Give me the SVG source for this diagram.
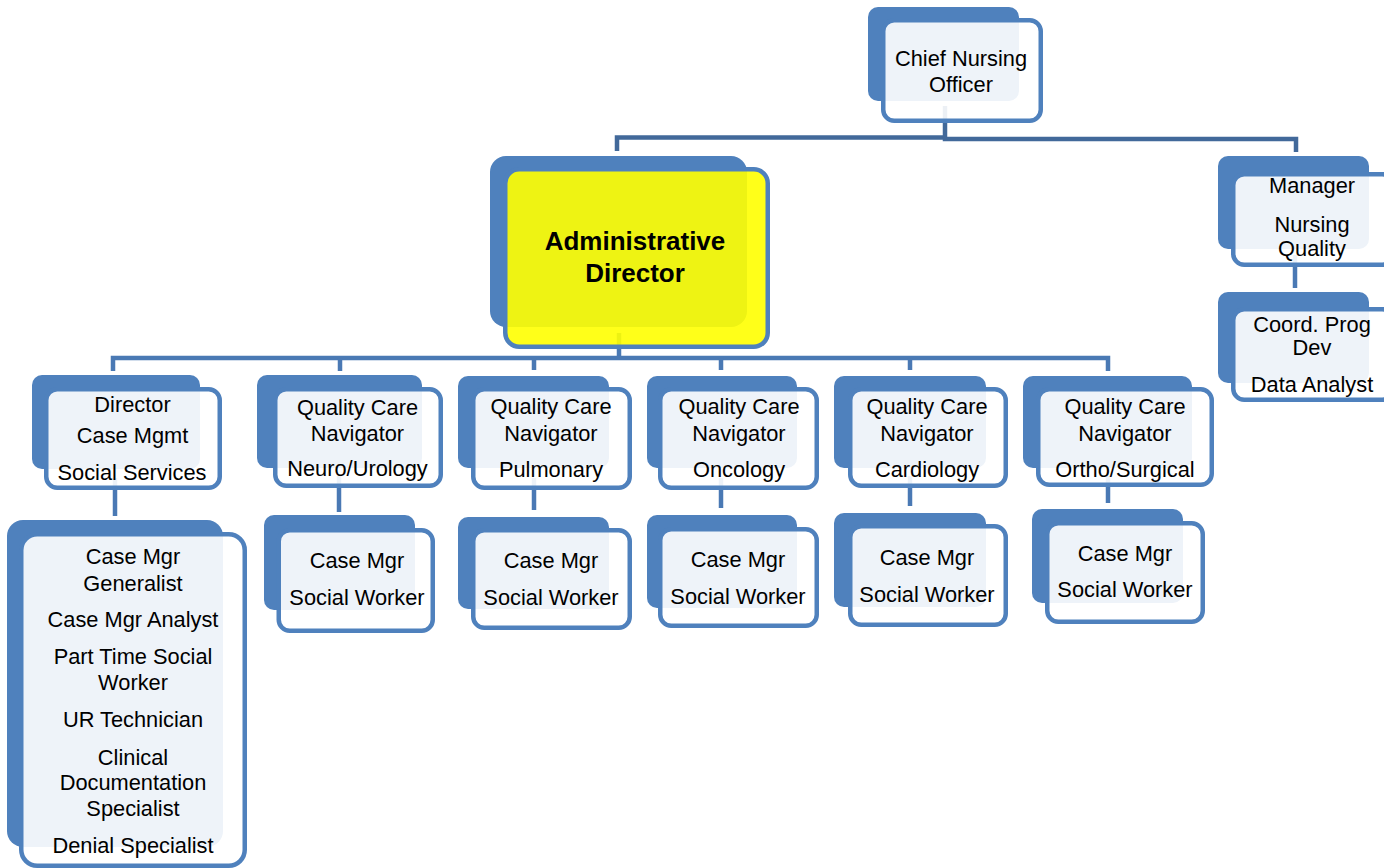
<svg xmlns="http://www.w3.org/2000/svg" width="1384" height="868" viewBox="0 0 1384 868">
<style>
.back{fill:#4f81bd}
.front{fill:#ffffff;fill-opacity:.9;stroke:#4f81bd;stroke-width:4.5}
.yfront{fill:#ffff00;fill-opacity:.9;stroke:#4f81bd;stroke-width:4.5}
.c1{fill:none;stroke:#42699a;stroke-width:4.5}
.c2{fill:none;stroke:#4a79b4;stroke-width:4.5}
text{font-family:"Liberation Sans",Arial,sans-serif;font-size:21.8px;fill:#000;text-anchor:middle}
.b{font-weight:bold;font-size:26px}
</style>
<rect width="1384" height="868" fill="#ffffff"/>
<g id="connectors">
<path class="c1" d="M945,106 V137.5 H617 V151"/>
<path class="c1" d="M945,137.5 V139 H1296 V152"/>
<path class="c2" d="M619,333 V358"/>
<path class="c2" d="M113,371 V358 H1108 V371"/>
<path class="c2" d="M340,358 V371 M534,358 V370 M721,358 V370 M910,358 V370"/>
<path class="c2" d="M1295,255 V288"/>
<path class="c2" d="M115,478 V516"/>
<path class="c2" d="M339,476 V512"/>
<path class="c2" d="M534,478 V510"/>
<path class="c2" d="M721,478 V508"/>
<path class="c2" d="M910,476 V506"/>
<path class="c2" d="M1108,476 V503"/>
</g>
<g id="cno">
<rect class="back" x="868" y="7" width="151" height="94" rx="10"/>
<rect class="front" x="883.25" y="20.25" width="157.5" height="100.5" rx="11"/>
<text x="961" y="66">Chief Nursing</text>
<text x="961" y="92">Officer</text>
</g>
<g id="admin">
<rect class="back" x="490" y="156" width="257" height="171" rx="16"/>
<rect class="yfront" x="505.25" y="169.25" width="262.5" height="177.5" rx="14"/>
<text class="b" x="635" y="250">Administrative</text>
<text class="b" x="635" y="282">Director</text>
</g>
<g id="manager">
<rect class="back" x="1218" y="156" width="151" height="93" rx="10"/>
<rect class="front" x="1233.25" y="174.25" width="160" height="90.5" rx="11"/>
<text x="1312" y="193">Manager</text>
<text x="1312" y="232">Nursing</text>
<text x="1312" y="256">Quality</text>
</g>
<g id="coord">
<rect class="back" x="1218" y="292" width="151" height="91" rx="10"/>
<rect class="front" x="1233.25" y="309.25" width="160" height="90.5" rx="11"/>
<text x="1312" y="332">Coord. Prog</text>
<text x="1312" y="355">Dev</text>
<text x="1312" y="392">Data Analyst</text>
</g>
<g id="director">
<rect class="back" x="32" y="375" width="168" height="94" rx="10"/>
<rect class="front" x="46.25" y="389.25" width="173.5" height="98.5" rx="11"/>
<text x="132.5" y="412">Director</text>
<text x="132.5" y="443">Case Mgmt</text>
<text x="132" y="480">Social Services</text>
</g>
<g id="casemgmt-staff">
<rect class="back" x="7" y="520" width="216" height="327" rx="16"/>
<rect class="front" x="21.25" y="534.25" width="223.5" height="331.5" rx="16"/>
<text x="133" y="564">Case Mgr</text>
<text x="133" y="591">Generalist</text>
<text x="133" y="627">Case Mgr Analyst</text>
<text x="133" y="664">Part Time Social</text>
<text x="133" y="690">Worker</text>
<text x="133" y="727">UR Technician</text>
<text x="133" y="765">Clinical</text>
<text x="133" y="790">Documentation</text>
<text x="133" y="816">Specialist</text>
<text x="133" y="853">Denial Specialist</text>
</g>
<g id="qcn-neuro">
<rect class="back" x="257" y="375" width="165" height="93" rx="10"/>
<rect class="front" x="275.25" y="389.25" width="165.5" height="96.5" rx="11"/>
<text x="357.5" y="415">Quality Care</text>
<text x="357.5" y="441">Navigator</text>
<text x="357.5" y="476">Neuro/Urology</text>
</g>
<g id="cm-neuro">
<rect class="back" x="264" y="515" width="151" height="95" rx="10"/>
<rect class="front" x="278.75" y="530.25" width="154" height="100.5" rx="11"/>
<text x="357" y="568">Case Mgr</text>
<text x="357" y="605">Social Worker</text>
</g>
<g id="qcn-pulm">
<rect class="back" x="458" y="376" width="151" height="92" rx="10"/>
<rect class="front" x="473.25" y="389.25" width="156.5" height="98.5" rx="11"/>
<text x="551" y="414">Quality Care</text>
<text x="551" y="441">Navigator</text>
<text x="551" y="477">Pulmonary</text>
</g>
<g id="cm-pulm">
<rect class="back" x="458" y="517" width="151" height="92" rx="10"/>
<rect class="front" x="473.25" y="530.25" width="156.5" height="97.5" rx="11"/>
<text x="551" y="568">Case Mgr</text>
<text x="551" y="605">Social Worker</text>
</g>
<g id="qcn-onc">
<rect class="back" x="647" y="376" width="150" height="92" rx="10"/>
<rect class="front" x="660.25" y="389.25" width="156.5" height="98.5" rx="11"/>
<text x="739" y="414">Quality Care</text>
<text x="739" y="441">Navigator</text>
<text x="739" y="477">Oncology</text>
</g>
<g id="cm-onc">
<rect class="back" x="647" y="515" width="150" height="93" rx="10"/>
<rect class="front" x="660.25" y="529.25" width="156.5" height="96.5" rx="11"/>
<text x="738" y="567">Case Mgr</text>
<text x="738" y="604">Social Worker</text>
</g>
<g id="qcn-card">
<rect class="back" x="834" y="376" width="152" height="92" rx="10"/>
<rect class="front" x="850.25" y="389.25" width="155.5" height="96.5" rx="11"/>
<text x="927" y="414">Quality Care</text>
<text x="927" y="441">Navigator</text>
<text x="927" y="477">Cardiology</text>
</g>
<g id="cm-card">
<rect class="back" x="834" y="513" width="152" height="94" rx="10"/>
<rect class="front" x="850.25" y="526.25" width="155.5" height="98.5" rx="11"/>
<text x="927" y="565">Case Mgr</text>
<text x="927" y="602">Social Worker</text>
</g>
<g id="qcn-ortho">
<rect class="back" x="1023" y="376" width="169" height="92" rx="10"/>
<rect class="front" x="1038.25" y="389.25" width="173.5" height="95.5" rx="11"/>
<text x="1125" y="414">Quality Care</text>
<text x="1125" y="441">Navigator</text>
<text x="1125" y="477">Ortho/Surgical</text>
</g>
<g id="cm-ortho">
<rect class="back" x="1032" y="509" width="151" height="94" rx="10"/>
<rect class="front" x="1047.25" y="523.25" width="155.5" height="98.5" rx="11"/>
<text x="1125" y="561">Case Mgr</text>
<text x="1125" y="597">Social Worker</text>
</g>
</svg>
